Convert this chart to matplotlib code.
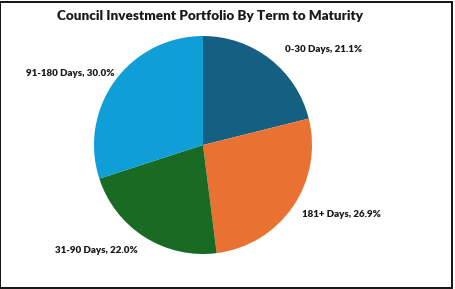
import matplotlib
matplotlib.use("Agg")
import matplotlib.pyplot as plt
from matplotlib.patches import Rectangle

# data
terms = ["0-30 Days", "181+ Days", "31-90 Days", "91-180 Days"]
shares = [21.1, 26.9, 22.0, 30.0]
colors = ["#156082", "#E97132", "#196B24", "#0F9ED5"]
# label positions in pie units (radius = 1)
label_xy = [(1.11, 0.88), (1.266, -0.642), (-0.98, -0.972), (-1.22, 0.66)]

plt.rcParams['font.family'] = ['Lato', 'DejaVu Sans']

fig = plt.figure(figsize=(4.56, 2.89), dpi=100)
ax = fig.add_axes([94 / 456, 1 - 254 / 289, 218 / 456, 218 / 289])

wedges, _ = ax.pie(shares, colors=colors, startangle=90, counterclock=False,
                   radius=1.0, wedgeprops=dict(linewidth=0))
ax.set_xlim(-1, 1)
ax.set_ylim(-1, 1)
ax.set_aspect("auto")

for name, val, (x, y) in zip(terms, shares, label_xy):
    ax.text(x, y, f"{name}, {val:.1f}%", ha="center", va="center",
            fontsize=7.0, fontweight="heavy", color="#1a1a1a")

fig.text(210 / 456, 1 - 16 / 289, "Council Investment Portfolio By Term to Maturity",
         ha="center", va="center", fontsize=9.7, fontweight="heavy", color="#1a1a1a")

# outer frame
fig.patches.append(Rectangle((0.5 / 456, 1.5 / 289), 452 / 456, 286 / 289,
                             transform=fig.transFigure, fill=False,
                             edgecolor="black", linewidth=1.3))

fig.savefig("out.png", dpi=100)
